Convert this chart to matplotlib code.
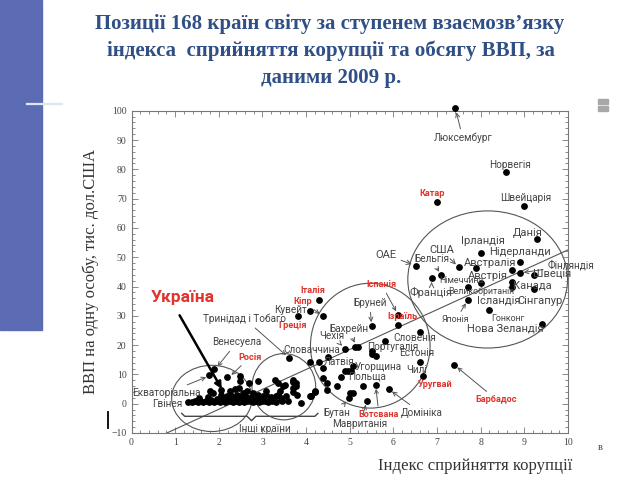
import matplotlib
matplotlib.use('Agg')
from matplotlib import pyplot as plt
from matplotlib.patches import Ellipse, Rectangle
from matplotlib.lines import Line2D

plt.rcParams['font.family'] = ['Roboto', 'DejaVu Sans']

# ---- data (CPI index, GDP per capita, thousand USD) ----
# rich countries (big circle + outliers)
rich_x = [7.42, 8.59, 7.00, 9.00, 9.29, 8.00, 8.89, 6.51, 7.50, 7.90, 8.71, 8.89,
          9.22, 7.10, 6.88, 8.01, 7.71, 8.71, 8.71, 9.21, 7.71, 8.20, 9.41, 7.39]
rich_y = [100.8, 79.2, 69.0, 67.6, 56.2, 51.4, 48.4, 47.1, 46.5, 46.3, 45.7, 44.6,
          44.0, 43.8, 42.9, 41.2, 40.0, 41.6, 39.8, 39.3, 35.5, 32.0, 27.3, 13.3]

# middle group
mid_x = [4.30, 4.10, 3.82, 4.39, 5.50, 6.11, 6.11, 6.60, 5.80, 4.89, 5.11, 5.19,
         5.50, 5.52, 5.59, 6.60, 6.68, 4.10, 4.30, 4.50, 4.39, 4.39, 4.48, 4.48,
         4.70, 4.81, 4.89, 4.95, 5.03, 5.08, 5.30, 5.59, 5.89, 5.00, 5.08, 4.98,
         5.40, 4.08, 4.20, 3.61]
mid_y = [35.5, 31.5, 29.8, 29.8, 26.4, 30.3, 27.0, 24.4, 21.5, 18.8, 19.5, 19.3,
         18.1, 17.0, 16.4, 14.2, 9.5, 14.4, 14.4, 16.1, 12.2, 8.8, 7.1, 4.8,
         5.9, 9.1, 11.0, 11.3, 11.3, 12.7, 6.1, 6.5, 5.0, 3.6, 3.6, 1.9,
         1.0, 2.5, 3.9, 15.6]

# poor countries cluster
low_x = [1.89, 1.78, 2.19, 2.48, 2.48, 2.70, 2.90, 3.28, 3.36, 3.70, 3.76, 3.47,
         3.70, 3.69, 3.40, 3.09, 4.20, 4.12, 3.89, 3.59, 3.36, 3.17, 1.80, 1.87,
         2.06, 2.25, 2.37, 2.47, 2.64, 2.79, 2.90, 2.41, 2.18, 2.56, 2.71, 3.02,
         3.51, 3.69, 3.78]
low_y = [11.8, 9.9, 9.0, 9.3, 7.6, 7.1, 7.6, 8.2, 7.1, 8.2, 7.1, 5.9,
         5.4, 3.9, 4.2, 4.2, 4.2, 2.7, 0.4, 0.8, 3.1, 1.4, 4.5, 3.6,
         4.8, 4.2, 5.0, 5.4, 4.5, 3.6, 3.1, 3.1, 2.5, 2.5, 2.0, 2.5,
         6.5, 7.3, 5.9]

band_x = [1.30, 1.38, 1.45, 1.52, 1.58, 1.64, 1.70, 1.77, 1.83, 1.90, 1.96, 2.02,
          2.08, 2.14, 2.20, 2.27, 2.33, 2.40, 2.46, 2.52, 2.58, 2.65, 2.72, 2.78,
          2.85, 2.92, 2.98, 3.05, 3.13, 3.22, 3.32, 3.45]
band_y = [0.6, 0.7, 0.9, 0.6, 1.0, 0.7, 0.9, 0.5, 1.1, 0.7, 0.9, 0.6,
          1.2, 0.7, 0.8, 1.0, 0.6, 0.9, 0.7, 1.1, 0.6, 0.8, 1.0, 0.6,
          0.9, 0.7, 1.0, 0.8, 0.6, 0.9, 0.7, 0.8]

row2_x = [1.55, 1.75, 1.95, 2.05, 2.15, 2.30, 2.45, 2.55, 2.62, 2.75, 2.88, 2.95,
          3.08, 3.20, 3.30, 3.42, 3.55, 3.80]
row2_y = [1.8, 2.2, 1.6, 2.9, 2.0, 2.6, 1.8, 3.6, 2.2, 1.7, 2.4, 1.9,
          3.0, 2.2, 2.6, 1.9, 2.5, 3.0]

# trend line end points
trend_x = [0.81, 10.0]
trend_y = [-10.0, 52.5]

# groups: (centre x, centre y, half width, half height)
groups = [(1.84, 1.8, 0.92, 11.3),
          (3.49, 5.8, 0.73, 11.3),
          (5.47, 19.8, 1.37, 21.3),
          (8.16, 42.4, 1.83, 23.4)]

# labels: text, x, y, style, arrow target
labels = [
    ('Люксембург', 7.59, 90.6, 'n', (7.42, 100.8)),
    ('Норвегія', 8.66, 81.5, 'n', None),
    ('Катар', 6.88, 71.8, 'r', None),
    ('Швейцарія', 9.03, 70.3, 'n', None),
    ('Данія', 9.08, 58.4, 'b', None),
    ('Ірландія', 8.04, 55.4, 'b', None),
    ('Нідерланди', 8.89, 51.7, 'b', None),
    ('ОАЕ', 5.84, 50.8, 'b', (6.51, 47.1)),
    ('США', 7.10, 52.5, 'b', (7.50, 46.5)),
    ('Бельгія', 6.87, 49.3, 'n', (7.10, 43.8)),
    ('Австралія', 8.22, 48.0, 'b', None),
    ('Фінляндія', 10.06, 47.2, 'n', (8.89, 44.6)),
    ('Швеція', 9.64, 44.6, 'b', None),
    ('Німеччина', 7.56, 41.9, 's', None),
    ('Австрія', 8.16, 43.6, 'b', None),
    ('Великобританія', 8.01, 38.3, 's', None),
    ('Канада', 9.18, 40.3, 'b', None),
    ('Ісландія', 8.42, 35.1, 'b', None),
    ('Сінгапур', 9.36, 35.1, 'b', None),
    ('Франція', 6.87, 37.8, 'b', (6.88, 42.9)),
    ('Японія', 7.43, 28.6, 's', (7.71, 35.5)),
    ('Гонконг', 8.62, 29.0, 's', None),
    ('Нова Зеландія', 8.57, 25.6, 'b', None),
    ('Барбадос', 8.36, 1.4, 'r', (7.39, 13.3)),
    ('Уругвай', 6.95, 6.5, 'r', None),
    ('Чилі', 6.53, 11.6, 'n', None),
    ('Естонія', 6.54, 17.3, 'n', None),
    ('Словенія', 6.49, 22.4, 'n', None),
    ('Португалія', 5.99, 19.5, 'n', None),
    ('Угорщина', 5.65, 12.5, 'n', None),
    ('Польща', 5.40, 9.3, 'n', None),
    ('Латвія', 4.76, 14.1, 'n', None),
    ('Словаччина', 4.12, 18.4, 'n', None),
    ('Чехія', 4.60, 23.2, 'n', (4.89, 18.8)),
    ('Бахрейн', 4.98, 25.4, 'n', (5.15, 19.5)),
    ('Бруней', 5.46, 34.3, 'n', (5.50, 26.4)),
    ('Іспанія', 5.73, 40.6, 'r', (6.11, 30.3)),
    ('Ізраїль', 6.20, 29.6, 'r', None),
    ('Італія', 4.16, 38.5, 'r', None),
    ('Кіпр', 3.92, 34.9, 'r', (4.39, 29.8)),
    ('Кувейт', 3.64, 32.0, 'n', None),
    ('Греція', 3.69, 26.7, 'r', None),
    ('Тринідад і Тобаго', 2.60, 28.9, 'n', (3.61, 15.6)),
    ('Венесуела', 2.41, 20.9, 'n', (1.91, 11.6)),
    ('Росія', 2.71, 15.8, 'r', (2.22, 8.8)),
    ('Екваторіальна', 0.81, 3.6, 'n', (1.80, 9.6)),
    ('Гвінея', 0.83, -0.1, 'n', None),
    ('Бутан', 4.70, -3.2, 'n', (4.98, 1.9)),
    ('Мавританія', 5.23, -6.8, 'n', (5.40, 1.0)),
    ('Ботсвана', 5.67, -3.7, 'r', (5.59, 6.5)),
    ('Домініка', 6.64, -3.2, 'n', (5.89, 5.0)),
    ('Інші країни', 3.06, -8.6, 'n', None),
]

ukraine_point = (2.10, 4.2)

styles = {
    'n': dict(fontsize=7.2, color='#444444'),
    's': dict(fontsize=6.4, color='#444444'),
    'b': dict(fontsize=8.0, color='#444444'),
    'r': dict(fontsize=6.6, color='#e0342c', fontweight='bold'),
}

fig = plt.figure(figsize=(6.4, 4.8), dpi=100)

# slide decorations
fig.patches.append(Rectangle((0, 1 - 330 / 480), 42 / 640, 330 / 480,
                             transform=fig.transFigure, color='#5b6cb4', zorder=0))
fig.add_artist(Line2D([27 / 640, 62 / 640], [1 - 104 / 480] * 2, color='#dfe5f2', lw=1.6))
fig.add_artist(Line2D([108 / 640] * 2, [1 - 412 / 480, 1 - 428 / 480], color='black', lw=1.3))
fig.patches.append(Rectangle((598 / 640, 1 - 104 / 480), 10 / 640, 5 / 480,
                             transform=fig.transFigure, color='#a8a8a8'))
fig.patches.append(Rectangle((598 / 640, 1 - 111 / 480), 10 / 640, 5 / 480,
                             transform=fig.transFigure, color='#a8a8a8'))

title_lines = ['Позиції 168 країн світу за ступенем взаємозв’язку',
               'індекса  сприйняття корупції та обсягу ВВП, за',
               'даними 2009 р.']
title_pos = [(330, 24.5), (331, 51), (331, 77.5)]
for line, (px, py) in zip(title_lines, title_pos):
    fig.text(px / 640, 1 - py / 480, line, ha='center', va='center',
             family='Liberation Serif', fontweight='bold', fontsize=15, color='#2f4f86')

ax = fig.add_axes([131.5 / 640, 1 - 433 / 480, 436.5 / 640, 322.3 / 480])
ax.set_xlim(0, 10)
ax.set_ylim(-10, 100)
ax.set_xticks(range(0, 11))
ax.set_yticks(range(-10, 101, 10))
ax.set_xticks([i * 0.2 for i in range(51)], minor=True)
ax.set_yticks(range(-10, 101, 2), minor=True)
ax.tick_params(which='both', direction='in', top=True, right=True, colors='#777777',
               labelcolor='#444444', labelsize=7, width=0.6)
ax.tick_params(which='major', length=4)
ax.tick_params(which='minor', length=2)
for lab in ax.get_xticklabels() + ax.get_yticklabels():
    lab.set_family('Liberation Serif')
for sp in ax.spines.values():
    sp.set_color('#777777')
    sp.set_linewidth(0.8)

for cx, cy, rx, ry in groups:
    ax.add_patch(Ellipse((cx, cy), 2 * rx, 2 * ry, fill=False, ec='#555555', lw=0.8))

ax.plot(trend_x, trend_y, color='#555555', lw=0.8)

all_x = rich_x + mid_x + low_x + band_x + row2_x
all_y = rich_y + mid_y + low_y + band_y + row2_y
ax.scatter(all_x, all_y, s=15, color='black', zorder=3, clip_on=False)

arrow = dict(arrowstyle='->', color='#555555', lw=0.7, shrinkA=1, shrinkB=3)
for text, tx, ty, st, target in labels:
    if target is None:
        ax.text(tx, ty, text, ha='center', va='center', **styles[st])
    else:
        ax.annotate(text, xy=target, xytext=(tx, ty), ha='center', va='center',
                    arrowprops=arrow, annotation_clip=False, **styles[st])

# brace under the poor cluster
bx0, bx1, by, bh = 1.15, 4.27, -4.3, 1.0
bmid = 2.75
ax.plot([bx0, bx0 + 0.07, bmid - 0.1, bmid, bmid + 0.1, bx1 - 0.07, bx1],
        [by + bh, by, by, by - 1.5, by, by, by + bh], color='#444444', lw=1.0)

# Ukraine
ax.text(1.18, 36.1, 'Україна', ha='center', va='center', fontsize=12.5,
        color='#e0342c', fontweight='bold')
ax.annotate('', xy=ukraine_point, xytext=(1.07, 31.0),
            arrowprops=dict(arrowstyle='-|>', color='black', lw=1.8, mutation_scale=10))

fig.text(91 / 640, 1 - 272 / 480, 'ВВП на одну особу, тис. дол.США', rotation=90,
         ha='center', va='center', family='Liberation Serif', fontsize=12, color='#333333')
fig.text(475 / 640, 1 - 466 / 480, 'Індекс сприйняття корупції', ha='center', va='center',
         family='Liberation Serif', fontsize=12, color='#333333')
fig.text(600 / 640, 1 - 447 / 480, 'в', ha='center', va='center',
         family='Liberation Serif', fontsize=7.5, color='#444444')

fig.savefig('out.png', dpi=100)
